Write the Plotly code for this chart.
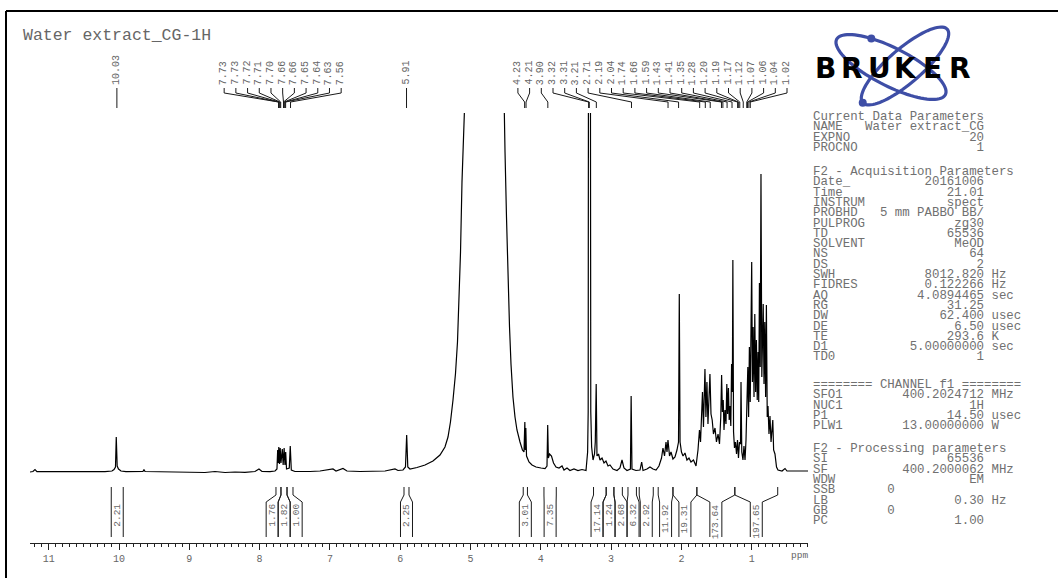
import math
import plotly.graph_objects as go

# ---------------- data ----------------
spectrum_ppm = [
    11.266, 11.224, 11.195, 11.167, 10.982, 10.697, 10.413, 10.199, 10.100, 10.071,
    10.050, 10.039, 10.026, 10.007, 9.972, 9.901, 9.659, 9.645, 9.630, 9.417,
    9.204, 8.990, 8.777, 8.635, 8.492, 8.350, 8.208, 8.066, 8.009, 7.966,
    7.852, 7.781, 7.753, 7.743, 7.734, 7.727, 7.717, 7.707, 7.696, 7.677,
    7.665, 7.651, 7.639, 7.629, 7.617, 7.578, 7.564, 7.549, 7.497, 7.283,
    7.141, 6.956, 6.913, 6.814, 6.757, 6.572, 6.358, 6.216, 6.074, 6.031,
    5.960, 5.925, 5.908, 5.892, 5.861, 5.761, 5.647, 5.534, 5.434, 5.363,
    5.320, 5.285, 5.249, 5.214, 5.185, 5.164, 5.142, 5.121, 5.100, 5.064,
    4.822, 4.566, 4.531, 4.509, 4.488, 4.467, 4.445, 4.424, 4.396, 4.367,
    4.339, 4.296, 4.261, 4.239, 4.227, 4.220, 4.213, 4.203, 4.168, 4.125,
    4.068, 3.997, 3.940, 3.912, 3.902, 3.892, 3.876, 3.848, 3.819, 3.784,
    3.741, 3.698, 3.670, 3.627, 3.585, 3.528, 3.471, 3.414, 3.357, 3.334,
    3.326, 3.320, 3.309, 3.297, 3.289, 3.277, 3.257, 3.236, 3.225, 3.212,
    3.201, 3.179, 3.158, 3.129, 3.101, 3.073, 3.044, 3.016, 2.973, 2.916,
    2.874, 2.845, 2.817, 2.774, 2.725, 2.715, 2.703, 2.646, 2.589, 2.565,
    2.546, 2.490, 2.447, 2.404, 2.361, 2.319, 2.283, 2.262, 2.240, 2.219,
    2.205, 2.191, 2.169, 2.148, 2.120, 2.091, 2.063, 2.041, 2.030, 2.019,
    1.999, 1.977, 1.949, 1.921, 1.892, 1.864, 1.828, 1.792, 1.764, 1.743,
    1.728, 1.714, 1.700, 1.686, 1.675, 1.665, 1.651, 1.637, 1.622, 1.608,
    1.594, 1.579, 1.562, 1.544, 1.522, 1.501, 1.479, 1.458, 1.440, 1.428,
    1.417, 1.405, 1.394, 1.380, 1.366, 1.354, 1.343, 1.331, 1.320, 1.309,
    1.297, 1.286, 1.275, 1.268, 1.258, 1.245, 1.231, 1.216, 1.202, 1.188,
    1.174, 1.159, 1.152, 1.141, 1.124, 1.110, 1.095, 1.081, 1.067, 1.055,
    1.044, 1.033, 1.021, 1.010, 1.000, 0.990, 0.979, 0.967, 0.956, 0.944,
    0.933, 0.921, 0.910, 0.900, 0.890, 0.879, 0.868, 0.856, 0.846, 0.836,
    0.825, 0.814, 0.802, 0.791, 0.779, 0.768, 0.754, 0.740, 0.725, 0.711,
    0.700, 0.688, 0.669, 0.647, 0.626, 0.569, 0.526, 0.498, 0.356, 0.199,
]
spectrum_int = [
    0, 0.5, 2.5, 0.3, 0.4, 0.2, 0.5, 0.3, 1.0, 2.5,
    5, 35, 6, 3, 1, 0.4, 0.5, 2.5, 0.5, 0.3,
    -0.5, 0, -0.5, 0.5, -0.5, 0, -0.3, 0.5, 3, 0.5,
    0.3, 1, 3, 22, 9, 25, 8, 24, 9, 23,
    7, 24, 7, 20, 3, 4, 26, 2, 0.5, 0.5,
    1, 3, 1, 3.5, 1, 0.5, 1, 1, 3, 1.5,
    2, 5, 37, 5, 3, 4.5, 7, 11, 17, 25,
    35, 50, 72, 98, 130, 170, 220, 290, 370, 550,
    900, 550, 390, 320, 255, 190, 145, 108, 75, 55,
    42, 30, 22, 20, 50, 22, 44, 16, 10, 7,
    5, 4, 3.5, 6, 47, 14, 18, 16, 9, 5,
    4, 6, 2, 4, 1.5, 3, 1.5, 2.5, 1.5, 20,
    60, 600, 600, 600, 60, 25, 12, 18, 30, 88,
    16, 18, 12, 14, 9, 11, 6, 7, 3, 1.5,
    4, 12, 4, 1.5, 3, 76, 3, 1.5, 2, 10,
    1.5, 3, 5, 3, 2, 6, 14, 24, 16, 30,
    20, 32, 16, 20, 13, 15, 22, 30, 178, 30,
    20, 16, 19, 12, 14, 10, 12, 6, 22, 42,
    30, 62, 80, 45, 85, 103, 55, 90, 48, 72,
    98, 58, 52, 38, 44, 30, 38, 28, 55, 97,
    60, 72, 42, 62, 48, 88, 58, 84, 52, 66,
    46, 108, 80, 212, 40, 24, 30, 18, 32, 14,
    30, 28, 90, 20, 12, 26, 12, 32, 60, 105,
    55, 125, 70, 150, 210, 90, 145, 75, 158, 80,
    132, 72, 120, 70, 189, 105, 298, 95, 140, 168,
    88, 150, 75, 167, 55, 66, 38, 56, 30, 40,
    52, 22, 18, 5, 2, 1, 3.5, 1, 1, 1,
]

peak_labels_ppm = [
    10.03,
    7.73, 7.73, 7.72, 7.71, 7.70, 7.66, 7.66, 7.65, 7.64, 7.63, 7.56,
    5.91,
    4.23, 4.21, 3.90, 3.32, 3.31, 3.21, 2.71, 2.19, 2.04, 1.74, 1.66, 1.59,
    1.43, 1.41, 1.35, 1.28, 1.20, 1.19, 1.17, 1.12, 1.07, 1.06, 1.04, 1.02,
]

integral_from = [10.11, 7.767, 7.696, 7.61, 5.946, 4.25, 3.955, 3.25, 3.07, 2.96,
                 2.76, 2.60, 2.33, 2.12, 1.78, 1.24]
integral_to = [9.94, 7.696, 7.61, 7.525, 5.875, 4.19, 3.78, 3.07, 2.96, 2.84,
               2.64, 2.40, 2.12, 1.78, 1.24, 0.63]
integral_val = [2.21, 1.76, 1.82, 1.00, 2.25, 3.01, 7.35, 17.14, 1.24, 2.68,
                6.32, 2.92, 11.92, 19.31, 173.64, 197.65]

title_text = "Water extract_CG-1H"

param_block1 = [
    ("Current Data Parameters", None, None),
    ("NAME", "Water extract_CG", None),
    ("EXPNO", "20", None),
    ("PROCNO", "1", None),
]
param_block2 = [
    ("F2 - Acquisition Parameters", None, None),
    ("Date_", "20161006", None),
    ("Time", "21.01", None),
    ("INSTRUM", "spect", None),
    ("PROBHD", "5 mm PABBO BB/", None),
    ("PULPROG", "zg30", None),
    ("TD", "65536", None),
    ("SOLVENT", "MeOD", None),
    ("NS", "64", None),
    ("DS", "2", None),
    ("SWH", "8012.820", "Hz"),
    ("FIDRES", "0.122266", "Hz"),
    ("AQ", "4.0894465", "sec"),
    ("RG", "31.25", None),
    ("DW", "62.400", "usec"),
    ("DE", "6.50", "usec"),
    ("TE", "293.6", "K"),
    ("D1", "5.00000000", "sec"),
    ("TD0", "1", None),
]
param_block3 = [
    ("======== CHANNEL f1 ========", None, None),
    ("SFO1", "400.2024712", "MHz"),
    ("NUC1", "1H", None),
    ("P1", "14.50", "usec"),
    ("PLW1", "13.00000000", "W"),
]
param_block4 = [
    ("F2 - Processing parameters", None, None),
    ("SI", "65536", None),
    ("SF", "400.2000062", "MHz"),
    ("WDW", "EM", None),
    ("SSB", "0", "left"),
    ("LB", "0.30", "Hz"),
    ("GB", "0", "left"),
    ("PC", "1.00", None),
]

# ---------------- layout helpers ----------------
W, H = 1058, 578
PX10 = 119.0      # pixel column of 10 ppm
PXPP = 70.3       # pixels per ppm
X0, X1 = 30, 808  # plot area left / right pixel


def ppm2px(p):
    return PX10 + (10 - p) * PXPP


def px2ppm(px):
    return 10 - (px - PX10) / PXPP


def yp(py):
    return 1 - py / H


def xp(px):
    return px / W


def spread(centers, w, lo=-1e9, hi=1e9):
    order = sorted(range(len(centers)), key=lambda i: centers[i])
    cs = [centers[i] for i in order]
    clusters = [[k] for k in range(len(cs))]

    def place(cl):
        m = sum(cs[k] for k in cl) / len(cl)
        start = m - (len(cl) - 1) * w / 2
        end = start + (len(cl) - 1) * w
        if end > hi:
            start -= end - hi
        if start < lo:
            start = lo
        return [start + j * w for j in range(len(cl))]

    while True:
        pos = [place(c) for c in clusters]
        merged = False
        for i in range(len(clusters) - 1):
            if pos[i][-1] + w > pos[i + 1][0] + 1e-6:
                clusters[i] = clusters[i] + clusters[i + 1]
                del clusters[i + 1]
                merged = True
                break
        if not merged:
            break
    out = [0.0] * len(centers)
    for c, p in zip(clusters, pos):
        for k, v in zip(c, p):
            out[order[k]] = v
    return out


GRAY = "#666666"
MONO = "Liberation Mono"

fig = go.Figure()

# spectrum
fig.add_trace(go.Scatter(
    x=spectrum_ppm, y=spectrum_int, mode="lines",
    line=dict(color="black", width=1.2), hoverinfo="skip", showlegend=False,
))

shapes = []
annotations = []

# frame (left and top border)
shapes.append(dict(type="line", xref="paper", yref="paper",
                   x0=xp(6), y0=yp(11), x1=xp(6), y1=0,
                   line=dict(color="black", width=2)))
shapes.append(dict(type="line", xref="paper", yref="paper",
                   x0=xp(6), y0=yp(11), x1=1, y1=yp(11),
                   line=dict(color="black", width=2)))

# title
annotations.append(dict(text=title_text, xref="paper", yref="paper",
                        x=xp(21), y=yp(35), xanchor="left", yanchor="middle",
                        showarrow=False, font=dict(family=MONO, size=16.5, color=GRAY)))

# peak labels with connector lines
peak_px = [ppm2px(p) for p in peak_labels_ppm]
label_px = spread(peak_px, 11.7, lo=X0, hi=787)
for p, pk, lx in zip(peak_labels_ppm, peak_px, label_px):
    a = px2ppm(lx)
    b = px2ppm(pk)
    shapes.append(dict(
        type="path", xref="x", yref="paper",
        path=f"M {a},{yp(88)} L {a},{yp(93)} L {b},{yp(102)} L {b},{yp(108)}",
        line=dict(color="#1a1a1a", width=1)))
    annotations.append(dict(text=f"{p:.2f}", xref="x", yref="paper",
                            x=a, y=yp(87), xanchor="center", yanchor="bottom",
                            textangle=-90, showarrow=False,
                            font=dict(family=MONO, size=10, color=GRAY)))

# integrals
top_l = [ppm2px(v) for v in integral_from]
top_r = [ppm2px(v) for v in integral_to]
centers = [(l + r) / 2 for l, r in zip(top_l, top_r)]
BW = 12.0
bottom_c = spread(centers, BW, lo=X0, hi=X1)
for tl, tr, bc, val in zip(top_l, top_r, bottom_c, integral_val):
    bl, br = bc - BW / 2, bc + BW / 2
    for t, bt in ((tl, bl), (tr, br)):
        a, b = px2ppm(t), px2ppm(bt)
        shapes.append(dict(
            type="path", xref="x", yref="paper",
            path=f"M {a},{yp(487)} L {a},{yp(495)} L {b},{yp(502)} L {b},{yp(537)}",
            line=dict(color="#1a1a1a", width=1)))
    annotations.append(dict(text=f"{val:.2f}", xref="x", yref="paper",
                            x=px2ppm(bc), y=yp(502), xanchor="center", yanchor="top",
                            textangle=-90, showarrow=False,
                            font=dict(family=MONO, size=9.5, color=GRAY)))

# ppm unit label
annotations.append(dict(text="ppm", xref="paper", yref="paper",
                        x=xp(799), y=yp(555), xanchor="center", yanchor="middle",
                        showarrow=False, font=dict(family=MONO, size=9.5, color=GRAY)))

# ---------------- parameter panel ----------------
NB = "\u00a0"


def fmt_row(name, value, unit):
    if value is None:
        s = name
    elif unit == "left":
        s = name.ljust(10) + value
    else:
        s = name + value.rjust(23 - len(name))
        if unit:
            s += " " + unit
    return s.replace(" ", NB)


blocks = [(117, param_block1), (172, param_block2), (385, param_block3), (449, param_block4)]
for y0, blk in blocks:
    for i, (n, v, u) in enumerate(blk):
        annotations.append(dict(text=fmt_row(n, v, u), xref="paper", yref="paper",
                                x=xp(811), y=yp(y0 + i * 10.3), xanchor="left",
                                yanchor="middle", showarrow=False,
                                font=dict(family=MONO, size=12.4, color="#707070")))

# ---------------- Bruker logo ----------------
BLUE = "#3e4ea6"


def ellipse_path(cx, cy, a, b, ang, n=90):
    t = math.radians(ang)
    pts = []
    for i in range(n):
        th = 2 * math.pi * i / n
        x = cx + a * math.cos(th) * math.cos(t) - b * math.sin(th) * math.sin(t)
        y = cy + a * math.cos(th) * math.sin(t) + b * math.sin(th) * math.cos(t)
        pts.append(f"{xp(x):.5f},{yp(y):.5f}")
    return "M " + " L ".join(pts) + " Z"


def ellipse_point(cx, cy, a, b, ang, th_deg):
    t = math.radians(ang)
    th = math.radians(th_deg)
    x = cx + a * math.cos(th) * math.cos(t) - b * math.sin(th) * math.sin(t)
    y = cy + a * math.cos(th) * math.sin(t) + b * math.sin(th) * math.cos(t)
    return x, y


ellA = (891, 67, 61, 19, 27)
ellB = (905, 66, 56, 17, -41)
for e in (ellA, ellB):
    shapes.append(dict(type="path", xref="paper", yref="paper", path=ellipse_path(*e),
                       line=dict(color=BLUE, width=3.2)))
for e, th in ((ellA, 240), (ellB, 180)):
    cx, cy = ellipse_point(*e, th)
    r = 4
    shapes.append(dict(type="circle", xref="paper", yref="paper",
                       x0=xp(cx - r), x1=xp(cx + r), y0=yp(cy + r), y1=yp(cy - r),
                       fillcolor=BLUE, line=dict(color=BLUE, width=0)))

logo_word = "BRUKER"
for i, ch in enumerate(logo_word):
    cxp = 812 + (973 - 812) / 6 * (i + 0.5)
    annotations.append(dict(text=f"<b>{ch}</b>", xref="paper", yref="paper",
                            x=xp(cxp), y=yp(69), xanchor="center", yanchor="middle",
                            showarrow=False,
                            font=dict(family="DejaVu Sans", size=28, color="black")))

# ---------------- axes ----------------
fig.update_layout(
    width=W, height=H,
    margin=dict(l=0, r=0, t=0, b=0),
    paper_bgcolor="white", plot_bgcolor="white",
    showlegend=False,
    shapes=shapes, annotations=annotations,
    xaxis=dict(
        domain=[xp(X0), xp(X1)],
        range=[px2ppm(X0), px2ppm(X1)],
        anchor="free", position=yp(543),
        showgrid=False, zeroline=False,
        showline=True, linecolor="#222", linewidth=1,
        tick0=0, dtick=1, ticks="outside", ticklen=6, tickcolor="#222", tickwidth=1,
        tickfont=dict(family=MONO, size=10, color=GRAY),
        minor=dict(dtick=0.1, tick0=0, ticks="outside", ticklen=3,
                   tickcolor="#222", tickwidth=1, showgrid=False),
    ),
    yaxis=dict(
        domain=[yp(476), yp(113)],
        range=[-4, 359],
        visible=False, showgrid=False, zeroline=False,
    ),
)

fig.write_html("out.html")
